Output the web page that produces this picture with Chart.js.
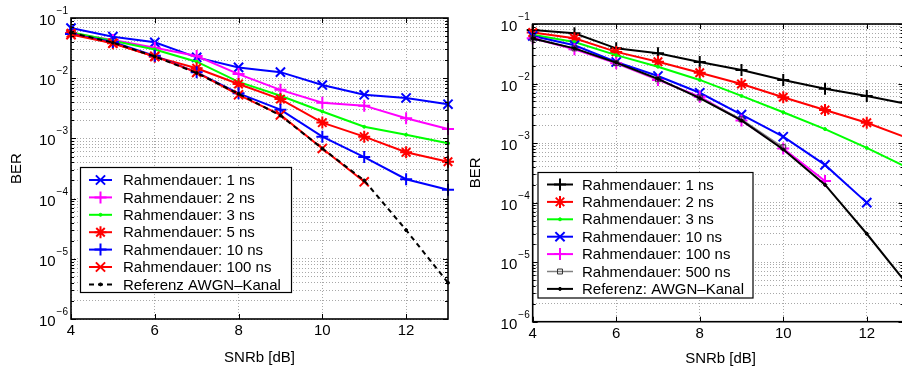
<!DOCTYPE html>
<html>
<head>
<meta charset="utf-8">
<script src="https://cdn.jsdelivr.net/npm/chart.js@4"></script>
<style>
  html, body { margin: 0; padding: 0; background: #fff; overflow: hidden; }
  #wrap { position: relative; width: 902px; height: 370px; overflow: hidden; background: #fff; }
  canvas { position: absolute; top: 0; }
  #leftChart { left: 0; }
  #rightChart { left: 450px; }
</style>
</head>
<body>
<div id="wrap">
  <canvas id="leftChart" width="460" height="370"></canvas>
  <canvas id="rightChart" width="462" height="370"></canvas>
</div>
<script>
// x values (SNRb in dB) shared by both plots
const snr = [4, 5, 6, 7, 8, 9, 10, 11, 12, 13];
const xTicks = [4, 6, 8, 10, 12];
const yExponents = [-6, -5, -4, -3, -2, -1];
const xTitle = 'SNRb [dB]';
const yTitle = 'BER';

// left plot
const leftLabels = ['Rahmendauer: 1 ns', 'Rahmendauer: 2 ns', 'Rahmendauer: 3 ns',
  'Rahmendauer: 5 ns', 'Rahmendauer: 10 ns', 'Rahmendauer: 100 ns', 'Referenz AWGN–Kanal'];
const left1ns = [0.068, 0.049, 0.0394, 0.0222, 0.0151, 0.0126, 0.0077, 0.0053, 0.0047, 0.0037];
const left2ns = [0.056, 0.043, 0.032, 0.0234, 0.0117, 0.0064, 0.0039, 0.0035, 0.00216, 0.00143];
const left3ns = [0.058, 0.042, 0.030, 0.0188, 0.0087, 0.0051, 0.0028, 0.00156, 0.00115, 0.00083];
const left5ns = [0.0557, 0.038, 0.0228, 0.0146, 0.008, 0.0045, 0.00183, 0.00107, 0.00059, 0.00041];
const left10ns = [0.054, 0.040, 0.0235, 0.0125, 0.0056, 0.0030, 0.00107, 0.00049, 0.00021, 0.00014];
const left100ns = [0.053, 0.038, 0.023, 0.0125, 0.0053, 0.00245, 0.00068, 0.00019];
const leftAwgn = [0.057, 0.039, 0.023, 0.0122, 0.0055, 0.0024, 0.00068, 0.0002, 0.00003, 0.000004];

// right plot
const rightLabels = ['Rahmendauer: 1 ns', 'Rahmendauer: 2 ns', 'Rahmendauer: 3 ns',
  'Rahmendauer: 10 ns', 'Rahmendauer: 100 ns', 'Rahmendauer: 500 ns', 'Referenz: AWGN–Kanal'];
const right1ns = [0.079, 0.070, 0.039, 0.0322, 0.023, 0.0169, 0.0115, 0.0082, 0.0062, 0.0045];
const right2ns = [0.072, 0.0575, 0.034, 0.0232, 0.0152, 0.0098, 0.0059, 0.0036, 0.0022, 0.0012];
const right3ns = [0.066, 0.050, 0.030, 0.0192, 0.0115, 0.0062, 0.0033, 0.00172, 0.00083, 0.00038];
const right10ns = [0.063, 0.044, 0.023, 0.0134, 0.0070, 0.0030, 0.00128, 0.00043, 0.0001];
const right100ns = [0.0575, 0.0376, 0.0219, 0.0115, 0.0060, 0.0024, 0.00081, 0.00023];
const right500ns = [0.057, 0.039, 0.022, 0.0118, 0.0058, 0.0025, 0.00085];
const rightAwgn = [0.057, 0.039, 0.0225, 0.012, 0.0057, 0.0024, 0.00078, 0.0002, 0.00003, 0.000004];

const FONT = '"Liberation Sans", Arial, Helvetica, sans-serif';

function series(label, values, color, style, radius, opts) {
    opts = opts || {};
    return {
        label: label,
        data: values.map((v, i) => ({ x: snr[i], y: v })),
        borderColor: color,
        backgroundColor: color,
        borderWidth: opts.width || 2,
        borderDash: opts.dash || [],
        pointStyle: style,
        pointRadius: radius,
        pointBorderColor: opts.markerColor || color,
        pointBackgroundColor: opts.markerFill || color,
        pointBorderWidth: opts.markerWidth || 2,
        fill: false,
        tension: 0,
        clip: false
    };
}

// marker drawing, also used by the legend
function marker(ctx, ds, x, y) {
    ctx.save();
    ctx.strokeStyle = ds.pointBorderColor;
    ctx.fillStyle = ds.pointBackgroundColor;
    ctx.lineWidth = ds.pointBorderWidth;
    ctx.setLineDash([]);
    Chart.helpers.drawPoint(ctx, { pointStyle: ds.pointStyle, radius: ds.pointRadius, rotation: 0, borderWidth: ds.pointBorderWidth }, x, y);
    ctx.restore();
}

const matlabAxes = {
    id: 'matlabAxes',
    afterDraw(chart, args, o) {
        const ctx = chart.ctx;
        const a = chart.chartArea;
        const xs = chart.scales.x, ys = chart.scales.y;
        ctx.save();
        // inward ticks
        ctx.strokeStyle = '#000';
        ctx.lineWidth = 1;
        ctx.setLineDash([]);
        ctx.beginPath();
        xTicks.forEach(t => {
            const px = Math.round(xs.getPixelForValue(t)) + 0.5;
            ctx.moveTo(px, a.bottom); ctx.lineTo(px, a.bottom - 5);
            ctx.moveTo(px, a.top); ctx.lineTo(px, a.top + 5);
        });
        yExponents.forEach(k => {
            for (let m = 1; m <= 9; m++) {
                const v = m * Math.pow(10, k);
                if (v > 0.1 + 1e-12) break;
                const py = Math.round(ys.getPixelForValue(v)) + 0.5;
                const len = m === 1 ? 5 : 3;
                ctx.moveTo(a.left, py); ctx.lineTo(a.left + len, py);
                ctx.moveTo(a.right, py); ctx.lineTo(a.right - len, py);
            }
        });
        ctx.stroke();
        // frame
        ctx.lineWidth = 1.6;
        ctx.strokeRect(a.left, a.top, a.right - a.left, a.bottom - a.top);

        // y tick labels 10^k
        ctx.fillStyle = '#000';
        yExponents.forEach(k => {
            const py = ys.getPixelForValue(Math.pow(10, k));
            const expText = '−' + Math.abs(k);
            ctx.font = '10px ' + FONT;
            const ew = ctx.measureText(expText).width;
            const right = a.left - 3;
            ctx.textAlign = 'left';
            ctx.textBaseline = 'alphabetic';
            ctx.fillText(expText, right - ew, py - 4);
            ctx.font = '15px ' + FONT;
            ctx.textAlign = 'right';
            ctx.fillText('10', right - ew - 1, py + 7);
        });
        // x tick labels
        ctx.font = '15px ' + FONT;
        ctx.textAlign = 'center';
        ctx.textBaseline = 'middle';
        xTicks.forEach(t => {
            ctx.fillText(String(t), xs.getPixelForValue(t), a.bottom + o.xLabelGap);
        });
        // axis titles
        ctx.fillText(xTitle, xs.getPixelForValue(8.5), o.xTitleY);
        ctx.translate(o.yTitleX, (a.top + a.bottom) / 2);
        ctx.rotate(-Math.PI / 2);
        ctx.fillText(yTitle, 0, 0);
        ctx.restore();

        // legend box
        const L = o.legend;
        ctx.save();
        ctx.fillStyle = '#fff';
        ctx.fillRect(L.x, L.y, L.w, L.h);
        ctx.strokeStyle = '#000';
        ctx.lineWidth = 1.2;
        ctx.strokeRect(L.x, L.y, L.w, L.h);
        chart.data.datasets.forEach((ds, i) => {
            const ry = L.firstRow + i * L.rowH;
            ctx.save();
            ctx.strokeStyle = ds.borderColor;
            ctx.lineWidth = ds.borderWidth;
            ctx.setLineDash(ds.borderDash);
            ctx.beginPath();
            ctx.moveTo(L.lineX0, ry); ctx.lineTo(L.lineX1, ry);
            ctx.stroke();
            ctx.restore();
            marker(ctx, ds, (L.lineX0 + L.lineX1) / 2, ry);
            ctx.fillStyle = '#000';
            ctx.font = '15px ' + FONT;
            ctx.textAlign = 'left';
            ctx.textBaseline = 'middle';
            ctx.fillText(ds.label, L.textX, ry + 1);
        });
        ctx.restore();
    }
};

function makeChart(id, datasets, xMax, padding, axesOpts) {
    const n = datasets.length;
    datasets.forEach((ds, i) => { ds.order = n - i; });
    return new Chart(document.getElementById(id), {
        type: 'line',
        data: { datasets: datasets },
        options: {
            responsive: false,
            animation: false,
            events: [],
            layout: { padding: padding },
            scales: {
                x: {
                    type: 'linear', min: 4, max: xMax,
                    afterBuildTicks: s => { s.ticks = xTicks.map(v => ({ value: v })); },
                    ticks: { display: false },
                    grid: { color: '#a8a8a8', lineWidth: 1, drawTicks: false },
                    border: { display: false, dash: [1, 2] }
                },
                y: {
                    type: 'logarithmic', min: 1e-6, max: 1e-1,
                    afterBuildTicks: s => {
                        const t = [];
                        yExponents.forEach(k => {
                            for (let m = 1; m <= 9; m++) {
                                const v = m * Math.pow(10, k);
                                if (v <= 0.1 + 1e-12) t.push({ value: v });
                            }
                        });
                        s.ticks = t;
                    },
                    ticks: { display: false },
                    grid: { color: '#a8a8a8', lineWidth: 1, drawTicks: false },
                    border: { display: false, dash: [1, 2] }
                }
            },
            plugins: {
                legend: { display: false },
                tooltip: { enabled: false },
                matlabAxes: axesOpts
            }
        },
        plugins: [matlabAxes]
    });
}

makeChart('leftChart', [
    series(leftLabels[0], left1ns, '#0000ff', 'crossRot', 6.5),
    series(leftLabels[1], left2ns, '#ff00ff', 'cross', 6),
    series(leftLabels[2], left3ns, '#00ff00', 'circle', 1.5, { markerWidth: 1 }),
    series(leftLabels[3], left5ns, '#ff0000', 'star', 6),
    series(leftLabels[4], left10ns, '#0000ff', 'cross', 6),
    series(leftLabels[5], left100ns, '#ff0000', 'crossRot', 6.5),
    series(leftLabels[6], leftAwgn, '#000000', 'circle', 1.5, { dash: [5, 4], markerWidth: 1 })
], 13, { left: 71, top: 18, right: 12, bottom: 51 }, {
    xLabelGap: 12, xTitleY: 358, yTitleX: 17,
    legend: { x: 80.5, y: 167.5, w: 211, h: 125, firstRow: 180, rowH: 17.4, lineX0: 89, lineX1: 112, textX: 123 }
});

makeChart('rightChart', [
    series(rightLabels[0], right1ns, '#000000', 'cross', 6),
    series(rightLabels[1], right2ns, '#ff0000', 'star', 6),
    series(rightLabels[2], right3ns, '#00ff00', 'circle', 1.5, { markerWidth: 1 }),
    series(rightLabels[3], right10ns, '#0000ff', 'crossRot', 6.5),
    series(rightLabels[4], right100ns, '#ff00ff', 'cross', 6),
    series(rightLabels[5], right500ns, '#808080', 'rect', 3.5, { width: 1.5, markerColor: '#303030', markerFill: 'rgba(255,255,255,0)', markerWidth: 1 }),
    series(rightLabels[6], rightAwgn, '#000000', 'circle', 1.5, { markerWidth: 1 })
], 12.88, { left: 82.7, top: 24, right: 5, bottom: 48.3 }, {
    xLabelGap: 12.5, xTitleY: 359, yTitleX: 26,
    legend: { x: 88, y: 172.5, w: 215, h: 125.5, firstRow: 184.5, rowH: 17.4, lineX0: 97, lineX1: 123, textX: 132 }
});
</script>
</body>
</html>
